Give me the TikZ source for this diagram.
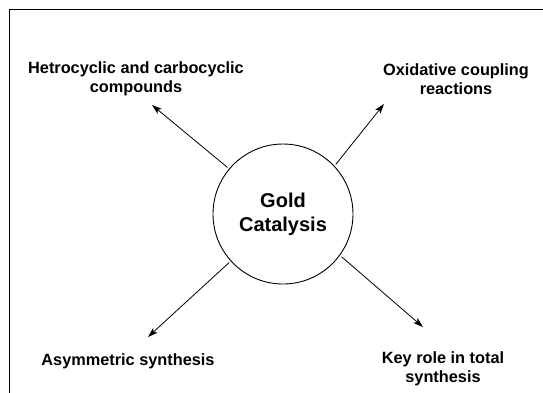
\documentclass[tikz,border=0pt]{standalone}
\usepackage{fontspec}
\setmainfont{Liberation Sans}
\usetikzlibrary{arrows.meta}
\begin{document}
\begin{tikzpicture}[x=1pt,y=-1pt,
  lbl/.style={font=\bfseries\fontsize{16.3}{19}\selectfont, align=center, inner sep=0pt},
  hub/.style={draw, circle, line width=0.9pt, minimum size=140pt, inner sep=0pt,
    font=\bfseries\fontsize{20}{24}\selectfont, align=center},
  arr/.style={line width=0.8pt, -{Stealth[length=10pt,width=6.5pt,inset=2.5pt]}, shorten <=2pt}]
\useasboundingbox (0,0) rectangle (543,392);
\draw[line width=0.9pt] (9.5,400) -- (9.5,9.5) -- (550,9.5);
\node[hub] (c) at (283,214) {Gold\\Catalysis};
\node[lbl] (tl) at (136,79) {Hetrocyclic and carbocyclic\\compounds};
\node[lbl] (tr) at (456,79) {Oxidative coupling\\reactions};
\node[lbl] (bl) at (128,361) {Asymmetric synthesis};
\node[lbl] (br) at (443,369) {Key role in total\\synthesis};
\coordinate (ttl) at (152,105);
\coordinate (ttr) at (384,104);
\coordinate (tbl) at (148,337);
\coordinate (tbr) at (423,327);
\draw[arr] (c.140) -- (ttl);
\draw[arr] (c.43) -- (ttr);
\draw[arr] (c.222) -- (tbl);
\draw[arr] (c.-36) -- (tbr);
\end{tikzpicture}
\end{document}
